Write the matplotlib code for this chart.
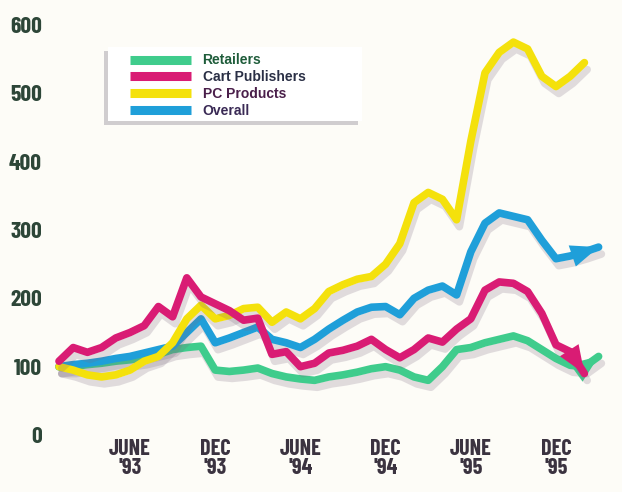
import numpy as np
import matplotlib
matplotlib.use("Agg")
import matplotlib.pyplot as plt
import matplotlib.patheffects as pe
from matplotlib.patches import Rectangle

# Index values, monthly from Jan '93 (month 0) to early '96
retailers = [100, 100, 103, 105, 108, 110, 113, 118, 125, 128, 130, 95, 93, 95,
             98, 90, 85, 82, 80, 85, 88, 92, 97, 100, 95, 85, 80, 100, 125, 128,
             135, 140, 145, 138, 125, 112, 102, 100, 115]
cart_publishers = [108, 128, 121, 128, 142, 150, 160, 188, 173, 230, 202, 192,
                   182, 168, 171, 118, 122, 100, 105, 120, 124, 130, 140, 125,
                   113, 125, 142, 136, 155, 170, 212, 224, 222, 210, 178, 132,
                   122, 90]
pc_products = [100, 95, 88, 85, 88, 95, 108, 115, 135, 170, 190, 170, 175, 185,
               187, 165, 180, 170, 185, 210, 220, 228, 232, 250, 280, 340, 355,
               345, 315, 430, 530, 560, 575, 565, 525, 510, 525, 545]
overall = [100, 103, 105, 108, 112, 115, 120, 125, 130, 150, 170, 135, 142, 150,
           158, 140, 135, 128, 140, 155, 168, 180, 187, 188, 176, 200, 212, 218,
           205, 268, 310, 325, 320, 315, 285, 258, 262, 268, 275]

tick_months = [5, 11, 17, 23, 29, 35]
tick_labels = ["JUNE\n'93", "DEC\n'93", "JUNE\n'94", "DEC\n'94", "JUNE\n'95", "DEC\n'95"]
y_ticks = [0, 100, 200, 300, 400, 500, 600]

series = [
    ("Retailers", retailers, "#3fcc8c", True, "#1e5c3a"),
    ("Overall", overall, "#1f9fd9", True, "#3a2a55"),
    ("PC Products", pc_products, "#f4e10c", False, "#4a1f4a"),
    ("Cart Publishers", cart_publishers, "#d91c74", True, "#2a2f45"),
]
legend_order = ["Retailers", "Cart Publishers", "PC Products", "Overall"]

narrow = ["Barlow Condensed", "Liberation Sans Narrow", "DejaVu Sans"]

fig = plt.figure(figsize=(6.22, 4.92), dpi=100)
fig.patch.set_facecolor("#fdfcf7")
ax = fig.add_axes([46 / 622, 57 / 492, 569 / 622, 425 / 492])
ax.set_facecolor("#fdfcf7")

lines = {}
for z, (name, vals, col, arrow, _) in enumerate(series):
    x = np.arange(len(vals))
    ln, = ax.plot(x, vals, color=col, lw=5.5, solid_joinstyle="round",
                  solid_capstyle="round", zorder=3 + z, clip_on=False,
                  path_effects=[pe.SimpleLineShadow(offset=(2, -5),
                                                    shadow_color="#7a6a80",
                                                    alpha=0.22),
                                pe.Normal()])
    lines[name] = ln
    if arrow:
        ax.annotate("", xy=(x[-1], vals[-1]), xytext=(x[-2], vals[-2]),
                    arrowprops=dict(arrowstyle="-|>,head_length=2.0,head_width=0.8",
                                    color=col, lw=0, shrinkA=0, shrinkB=0),
                    zorder=3 + z, annotation_clip=False)

ax.set_xlim((46 - 59) / 14.2, (615 - 59) / 14.2)
ax.set_ylim(0, 622)
ax.set_xticks(tick_months)
ax.set_xticklabels(tick_labels, family=narrow, fontweight="bold", fontsize=16,
                   color="#3b3340", linespacing=0.9)
ax.set_yticks(y_ticks)
ax.set_yticklabels([str(v) for v in y_ticks], family=narrow, fontweight="bold",
                   fontsize=17, color="#2d4638")
ax.tick_params(length=0)
ax.tick_params(axis="x", pad=3)
ax.tick_params(axis="y", pad=3)
for s in ax.spines.values():
    s.set_visible(False)

# legend background
box = Rectangle((108 / 622, 1 - 121 / 492), (362 - 108) / 622, (121 - 47) / 492,
                transform=fig.transFigure, facecolor="white", edgecolor="none",
                zorder=10, clip_on=False,
                path_effects=[pe.SimplePatchShadow(offset=(-3, -3),
                                                   shadow_rgbFace="#9a94a0",
                                                   alpha=0.45),
                              pe.Normal()])
ax.add_patch(box)

handles = [plt.Line2D([], [], color=lines[n].get_color(), lw=6.5,
                      solid_capstyle="butt") for n in legend_order]
leg = ax.legend(handles, legend_order, loc="upper left",
                bbox_to_anchor=(117 / 622, 1 - 41 / 492),
                bbox_transform=fig.transFigure, frameon=False,
                prop=dict(family=["Liberation Sans", "DejaVu Sans"],
                          weight="bold", size=10),
                handlelength=4.46, handletextpad=0.8, labelspacing=0.2,
                borderpad=0.4)
leg.set_zorder(11)
text_cols = {n: tc for n, _, _, _, tc in series}
for t, n in zip(leg.get_texts(), legend_order):
    t.set_color(text_cols[n])

fig.savefig("out.png", dpi=100, facecolor=fig.get_facecolor())
